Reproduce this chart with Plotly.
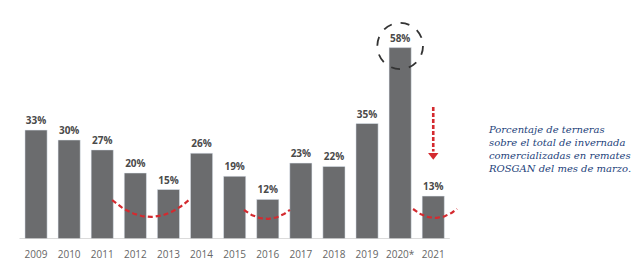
import numpy as np
import plotly.graph_objects as go

years = ["2009", "2010", "2011", "2012", "2013", "2014", "2015", "2016", "2017", "2018", "2019", "2020*", "2021"]
values = [33, 30, 27, 20, 15, 26, 19, 12, 23, 22, 35, 58, 13]
labels = [f"{v}%" for v in values]
note = "Porcentaje de terneras<br>sobre el total de invernada<br>comercializadas en remates<br>ROSGAN del mes de marzo."

idx = list(range(len(years)))
RED = "#d42a2f"

fig = go.Figure()
fig.add_trace(go.Bar(
    x=idx, y=values, width=0.67, marker_color="#6b6c6e",
    text=labels, textposition="outside", cliponaxis=False,
    textfont=dict(family="Open Sans", size=10, color="#4a4a4a", weight="bold"),
    hoverinfo="skip",
))

# red dashed arcs (decoration)
def arc(x0, x1, y_end, y_bot):
    t = np.linspace(-1, 1, 40)
    xs = (x0 + x1) / 2 + t * (x1 - x0) / 2
    ys = y_bot + (y_end - y_bot) * t ** 2
    return xs, ys

for (x0, x1, ye, yb) in [(2.3, 4.62, 11.8, 6.7), (6.28, 7.67, 8.8, 6.1), (11.39, 12.72, 9.1, 6.4)]:
    xs, ys = arc(x0, x1, ye, yb)
    fig.add_trace(go.Scatter(x=xs, y=ys, mode="lines", line=dict(color=RED, width=2.2, dash="5px,3px"),
                             hoverinfo="skip", cliponaxis=False))

# dashed red arrow (decoration)
fig.add_trace(go.Scatter(x=[12, 12], y=[40, 26.5], mode="lines",
                         line=dict(color=RED, width=2.6, dash="4px,2px"), hoverinfo="skip"))
fig.add_trace(go.Scatter(x=[12], y=[25.4], mode="markers",
                         marker=dict(symbol="triangle-down", size=9, color=RED), hoverinfo="skip"))

shapes = [
    dict(type="line", xref="x", yref="y", x0=-0.5, x1=12.5, y0=0, y1=0,
         line=dict(color="#cfcfcf", width=1.5)),
    dict(type="circle", xref="x", yref="y", x0=11 - 0.69, x1=11 + 0.69,
         y0=values[11] + 0.5 - 7, y1=values[11] + 0.5 + 7,
         line=dict(color="#333333", width=1.8, dash="dash")),
]

annotations = [
    dict(x=13.6, y=27.3, xref="x", yref="y", xanchor="left", yanchor="middle", align="left",
         showarrow=False, text=note,
         font=dict(family="DejaVu Serif", size=10, color="#23427a", style="italic")),
]

pitch = 33.1
left = 19.5
fig.update_layout(
    width=642, height=272, margin=dict(l=0, r=0, t=0, b=33),
    paper_bgcolor="white", plot_bgcolor="white", showlegend=False,
    shapes=shapes, annotations=annotations,
    xaxis=dict(range=[-0.5 - left / pitch, -0.5 - left / pitch + 642 / pitch],
               tickvals=idx, ticktext=years, showgrid=False, zeroline=False, showline=False,
               ticks="outside", ticklen=6, tickcolor="rgba(0,0,0,0)",
               tickfont=dict(family="Open Sans", size=10, color="#666666")),
    yaxis=dict(range=[0, 239 / 3.3], visible=False),
)
fig.write_html("out.html")
